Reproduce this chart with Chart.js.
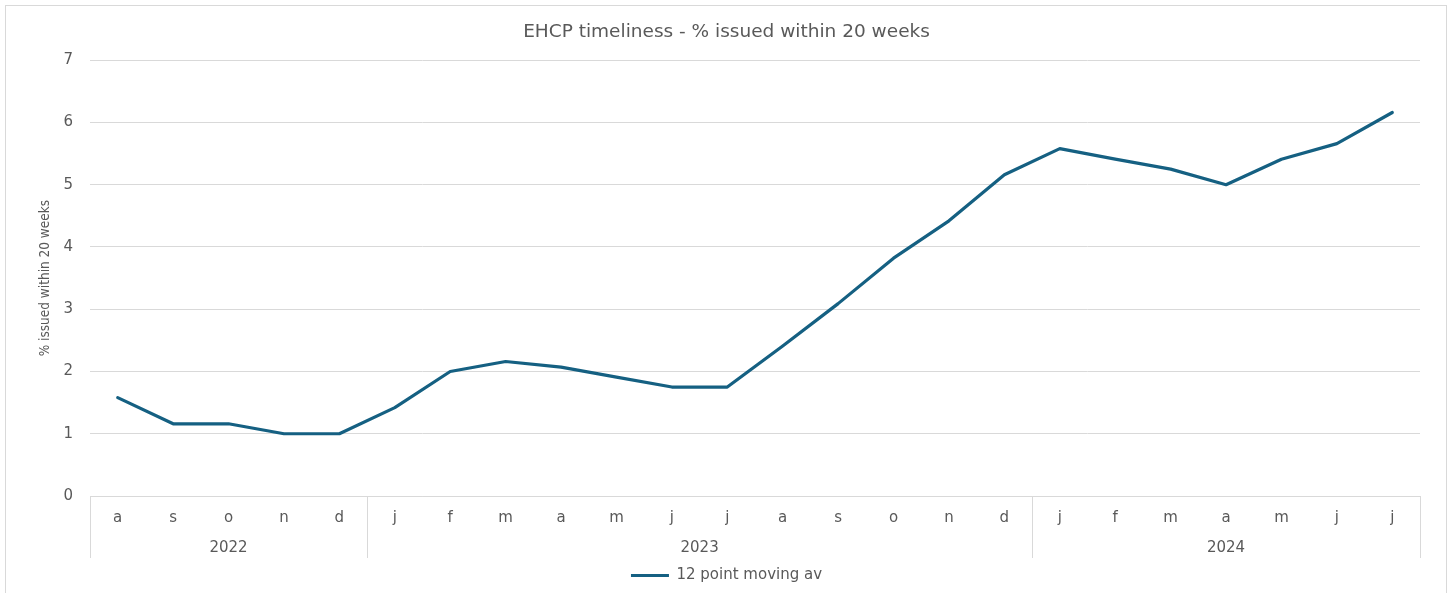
<!DOCTYPE html>
<html>
<head>
<meta charset="utf-8">
<script src="https://cdn.jsdelivr.net/npm/chart.js@4/dist/chart.umd.min.js"></script>
<style>
  html, body { margin: 0; padding: 0; background: #fff; overflow: hidden; }
  #wrap { position: relative; width: 1453px; height: 593px; }
  #frame {
    position: absolute; left: 5px; top: 5px; width: 1440px; height: 620px;
    border: 1px solid #d9d9d9; pointer-events: none;
  }
</style>
</head>
<body>
<div id="wrap">
  <canvas id="chart" width="1453" height="593"></canvas>
  <div id="frame"></div>
</div>
<script>
'use strict';

// ── Data ──────────────────────────────────────────────────────────────────────
const months = ['a','s','o','n','d','j','f','m','a','m','j','j','a','s','o','n','d','j','f','m','a','m','j','j'];
const years  = [
  { label: '2022', from: 0,  to: 4  },
  { label: '2023', from: 5,  to: 16 },
  { label: '2024', from: 17, to: 23 }
];
const movingAv = [1.58, 1.16, 1.16, 1.0, 1.0, 1.42, 2.0, 2.16, 2.07, 1.91, 1.75, 1.75,
                  2.41, 3.09, 3.82, 4.42, 5.16, 5.58, 5.41, 5.25, 5.0, 5.41, 5.66, 6.16];
const yTicks = [0, 7, 1]; // min, max, step

const TEXT = '#595959';
const GRID = '#d9d9d9';
const FONT = 'DejaVu Sans';

// ── Year row + group dividers under the month labels ─────────────────────────
const yearRow = {
  id: 'yearRow',
  afterDraw(chart) {
    const { ctx, chartArea } = chart;
    const x = chart.scales.x;
    const half = (x.getPixelForValue(1) - x.getPixelForValue(0)) / 2;
    const top = chartArea.bottom, bottom = chartArea.bottom + 62;
    ctx.save();
    ctx.strokeStyle = GRID;
    ctx.lineWidth = 1;
    ctx.fillStyle = TEXT;
    ctx.font = `15px "${FONT}"`;
    ctx.textAlign = 'center';
    ctx.textBaseline = 'middle';
    for (const y of years) {
      const l = x.getPixelForValue(y.from) - half;
      const r = x.getPixelForValue(y.to) + half;
      for (const px of [l, r]) {
        ctx.beginPath();
        ctx.moveTo(Math.round(px) + 0.5, top);
        ctx.lineTo(Math.round(px) + 0.5, bottom);
        ctx.stroke();
      }
      ctx.fillText(y.label, (l + r) / 2, chartArea.bottom + 52);
    }
    ctx.restore();
  }
};

// ── Chart ─────────────────────────────────────────────────────────────────────
new Chart(document.getElementById('chart'), {
  type: 'line',
  data: {
    labels: months,
    datasets: [{
      label: '12 point moving av',
      data: movingAv,
      borderColor: '#156082',
      backgroundColor: '#156082',
      borderWidth: 3.2,
      pointRadius: 0,
      pointStyle: 'line',
      tension: 0,
      borderJoinStyle: 'round',
      borderCapStyle: 'round'
    }]
  },
  options: {
    responsive: false,
    animation: false,
    layout: { padding: { left: 6, right: 6, top: 0, bottom: 0 } },
    plugins: {
      title: {
        display: true,
        text: 'EHCP timeliness - % issued within 20 weeks',
        color: TEXT,
        font: { family: FONT, size: 18.5, weight: 'normal' },
        padding: { top: 21, bottom: 17 }
      },
      legend: {
        position: 'bottom',
        labels: {
          color: TEXT,
          font: { family: FONT, size: 15 },
          usePointStyle: true,
          pointStyleWidth: 38,
          boxWidth: 38,
          padding: 9
        }
      },
      tooltip: { enabled: false }
    },
    scales: {
      x: {
        offset: true,
        grid: { display: false },
        border: { color: GRID },
        ticks: { color: TEXT, font: { family: FONT, size: 15 }, padding: 5, maxRotation: 0, autoSkip: false },
        afterFit: s => { s.height = 63; }
      },
      y: {
        min: yTicks[0],
        max: yTicks[1],
        ticks: { stepSize: yTicks[2], color: TEXT, font: { family: FONT, size: 15 }, padding: 17 },
        grid: { color: GRID, drawTicks: false },
        border: { display: false },
        title: {
          display: true,
          text: '% issued within 20 weeks',
          color: TEXT,
          font: { family: 'DejaVu Sans Condensed', size: 13.5 },
          padding: { top: 31, bottom: 0 }
        },
        afterFit: s => { s.width = 84; }
      },
      // empty right gutter so the plot ends short of the frame while title/legend stay centred
      gutter: {
        position: 'right',
        min: yTicks[0],
        max: yTicks[1],
        grid: { display: false },
        border: { display: false },
        ticks: { display: false },
        afterFit: s => { s.width = 27; }
      }
    }
  },
  plugins: [yearRow]
});
</script>
</body>
</html>
